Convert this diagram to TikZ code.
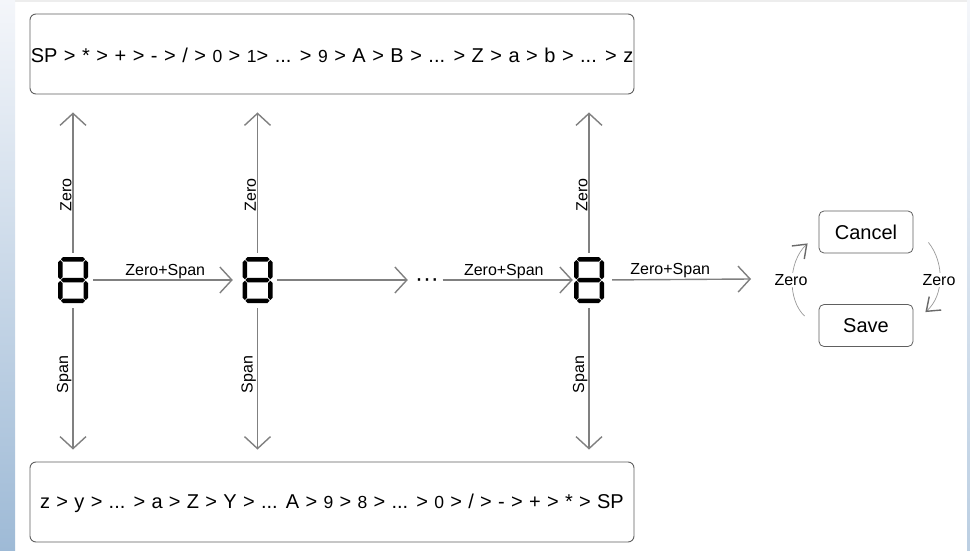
\documentclass[tikz,border=0pt]{standalone}
\usepackage{fontspec}
\setmainfont{Liberation Sans}
\usetikzlibrary{arrows.meta,calc}

\definecolor{stripTop}{HTML}{F4F6FA}
\definecolor{stripBot}{HTML}{9EBAD6}
\definecolor{arrowgray}{HTML}{808080}
\definecolor{boxgray}{HTML}{606060}
\definecolor{arcgray}{HTML}{9A9A9A}
\definecolor{headgray}{HTML}{6A6A6A}

% smaller digits inside the ordering strings
\newcommand\dg[1]{{\fontsize{17.5}{20}\selectfont #1}}

\tikzset{
  arr/.style={draw=arrowgray, line width=1.4pt,
    -{Straight Barb[length=12pt,width=26pt,line width=1.4pt]}},
  seqbox/.style={draw=boxgray, line width=0.9pt, rounded corners=6pt,
    minimum width=604pt, minimum height=80pt, inner sep=0pt},
  seqtext/.style={font=\fontsize{20}{24}\selectfont, inner sep=0pt},
  menubox/.style={draw=boxgray, line width=0.8pt, rounded corners=5pt,
    minimum width=94pt, minimum height=42pt, inner sep=0pt,
    font=\fontsize{20}{24}\selectfont},
  edgelbl/.style={font=\fontsize{16}{19}\selectfont, inner sep=0.8pt},
  cyclbl/.style={font=\fontsize{16}{19}\selectfont, fill=white, inner sep=1pt},
  cycarc/.style={draw=arcgray, line width=0.7pt,
    -{Straight Barb[length=12pt,width=18pt,line width=1.4pt,color=headgray]}},
  segdigit/.style={minimum width=30pt, minimum height=46pt, inner sep=0pt,
    path picture={
      \begin{scope}[shift={(path picture bounding box.center)}, xscale=#1]
        \fill[black]
          % horizontal segments: top, middle, bottom
          (-12,-20.75) -- (-10,-23) -- (10,-23) -- (12,-20.75) -- (10,-18.5) -- (-10,-18.5) -- cycle
          (-12,0) -- (-10,-2.25) -- (10,-2.25) -- (12,0) -- (10,2.25) -- (-10,2.25) -- cycle
          (-12,20.75) -- (-10,18.5) -- (10,18.5) -- (12,20.75) -- (10,23) -- (-10,23) -- cycle
          % vertical segments: upper left/right, lower left/right
          (-12.75,-20) -- (-10.5,-17.75) -- (-10.5,-3) -- (-12.75,-0.75) -- (-15,-3) -- (-15,-17.75) -- cycle
          (12.75,-20) -- (15,-17.75) -- (15,-3) -- (12.75,-0.75) -- (10.5,-3) -- (10.5,-17.75) -- cycle
          (-12.75,0.75) -- (-10.5,3) -- (-10.5,17.75) -- (-12.75,20) -- (-15,17.75) -- (-15,3) -- cycle
          (12.75,0.75) -- (15,3) -- (15,17.75) -- (12.75,20) -- (10.5,17.75) -- (10.5,3) -- cycle;
      \end{scope}
    }},
  segdigit/.default=1
}

\begin{document}
\begin{tikzpicture}[x=1pt, y=-1pt]
  \useasboundingbox (0,0) rectangle (970,551);

  % page background and side strips
  \fill[white] (0,0) rectangle (970,551);
  \fill[black!7] (15,0) rectangle (967,2);
  \shade[top color=stripTop, bottom color=stripBot] (0,0) rectangle (15,551);
  \shade[top color=stripTop, bottom color=stripBot!70] (967,0) rectangle (970,551);

  % ordering strings
  \node[seqbox] (up) at (332,54) {};
  \node[seqtext, anchor=west] (uptext) at ($(up.west)+(1,1)$)
    {\spaceskip=6.5pt SP > * > + > - > / > \dg{0} > \dg{1}> ... > \dg{9} > A > B > ... > Z > a > b > ... > z};
  \node[seqbox] (down) at (332,502) {};
  \node[seqtext] (downtext) at ($(down.center)+(0,1)$)
    {\spaceskip=6.3pt z > y > ... > a > Z > Y > ... A > \dg{9} > \dg{8} > ... > \dg{0} > / > - > + > * > SP};

  % seven-segment character positions
  \node[segdigit] (d1) at (73,280) {};
  \node[segdigit] (d2) at (257.5,280) {};
  \node[segdigit=0.85] (d3) at (589,280) {};
  \node[font=\fontsize{24}{28}\selectfont, inner sep=0pt] (dots) at (427,283) {···};
  \coordinate (next) at (751,279);

  % per-character up / down keys
  \foreach \d in {d1,d2,d3}{
    \draw[arr, shorten <=4pt, shorten >=18pt] (\d.north) -- (\d.north |- up.south)
      node[edgelbl, pos=0.38, rotate=90, anchor=south] {Zero};
    \draw[arr, shorten <=5pt, shorten >=12pt] (\d.south) -- (\d.south |- down.north)
      node[edgelbl, pos=0.45, rotate=90, anchor=south] {Span};
  }

  % moving to the next character
  \draw[arr, shorten <=5pt, shorten >=9.5pt] (d1.east) -- (d2.west |- d1.east)
    node[edgelbl, midway, above] {Zero+Span};
  \draw[arr, shorten <=4.5pt, shorten >=7pt] (d2.east) -- (dots.west |- d2.east);
  \draw[arr, shorten <=3.5pt, shorten >=1pt] (dots.east |- d2.east) -- (d3.west)
    node[edgelbl, pos=0.48, above] {Zero+Span};
  \draw[arr, shorten <=8pt] (d3.east) -- (next)
    node[edgelbl, pos=0.45, above] {Zero+Span};

  % final menu
  \node[menubox] (cancel) at (866,232) {Cancel};
  \node[menubox] (save) at (866,325.5) {Save};

  \draw[cycarc] ($(save.north west)+(-14,12)$)
    .. controls ($(save.north west)+(-31,-4)$) and ($(cancel.south west)+(-31,9)$)
    .. ($(cancel.south west)+(-11,-10)$);
  \draw[cycarc] ($(cancel.south east)+(15,-11)$)
    .. controls ($(cancel.south east)+(31,9)$) and ($(save.north east)+(31,-9)$)
    .. ($(save.north east)+(12,8)$);
  \node[cyclbl] (zl) at (791,280) {Zero};
  \node[cyclbl] (zr) at (939,280) {Zero};
\end{tikzpicture}
\end{document}
